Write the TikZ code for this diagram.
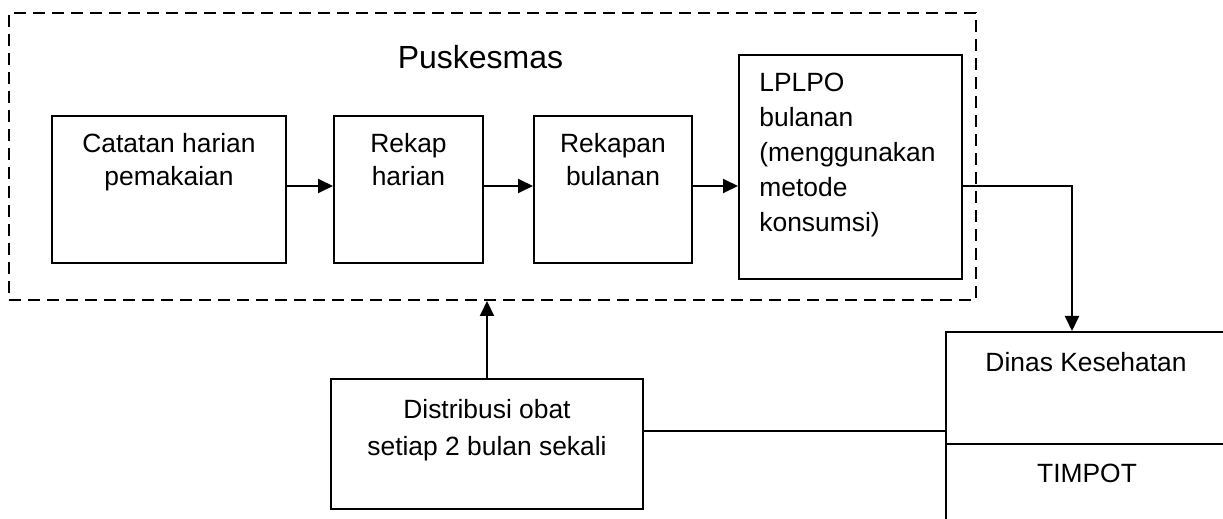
\documentclass[tikz,border=0pt]{standalone}
\usepackage{fontspec}
\setmainfont{Liberation Sans}
\usetikzlibrary{arrows.meta,positioning,calc}
\tikzset{
  box/.style={draw, line width=1pt, inner sep=0pt},
  boxtext/.style={font=\fontsize{13.2}{16.5}\selectfont, align=center, inner sep=0pt, anchor=north},
  flow/.style={-{Triangle[length=7.5pt,width=7pt]}, line width=1pt},
  link/.style={line width=1pt},
  group/.style={draw, dash pattern=on 6pt off 3.5pt, line width=1pt, inner sep=0pt},
}
\begin{document}
\begin{tikzpicture}[x=0.5pt,y=-0.5pt]
  \useasboundingbox (0,0) rectangle (1223,519);
  \clip (0,0) rectangle (1223,519);
  % puskesmas group
  \node[group, minimum width=483.5pt, minimum height=143.5pt] (pusk) at (492.5,156.5) {};
  \node[boxtext, font=\fontsize{16}{19}\selectfont] (puskt) at (480.5,45) {Puskesmas};
  % daily -> monthly chain
  \foreach \x/\w/\t [count=\i from 0] in {
      169/234/{Catatan harian\\pemakaian},
      408.5/149/{Rekap\\harian},
      613/158/{Rekapan\\bulanan}} {
    \node[box, minimum width=\w*0.5pt, minimum height=73.5pt] (b\i) at (\x,189.5) {};
    \node[boxtext] (t\i) at (\x,133) {\t};
  }
  \node[box, minimum width=111.5pt, minimum height=112pt] (lplpo) at (850.5,167) {};
  \node[boxtext, font=\fontsize{13.2}{17.5}\selectfont, align=left, anchor=north west] (lplpot) at (759,73)
    {LPLPO\\bulanan\\(menggunakan\\metode\\konsumsi)};
  % outside
  \node[box, minimum width=156pt, minimum height=65pt] (distr) at (487,444) {};
  \node[boxtext, font=\fontsize{13.2}{18.5}\selectfont] (distrt) at (487,399)
    {Distribusi obat\\setiap 2 bulan sekali};
  \node[box, minimum width=140pt, minimum height=112pt] (dinas) at (1086,444) {};
  \node[boxtext] (dinast) at (1086,352) {Dinas Kesehatan};
  \node[boxtext] (timpot) at (1087,464) {TIMPOT};
  \draw[link] (dinas.west) -- (dinas.east);
  % connectors
  \foreach \i [evaluate=\i as \j using int(\i+1)] in {0,1}
    \draw[flow] ([yshift=1.75pt]b\i.east) -- ([yshift=1.75pt]b\i.east -| b\j.west);
  \draw[flow] ([yshift=1.75pt]b2.east) -- ([yshift=1.75pt]b2.east -| lplpo.west);
  \coordinate (bend) at (1072,186);
  \draw[flow] (lplpo.east |- bend) -- (bend) -- (bend |- dinas.north);
  \draw[flow] (distr.north) -- (distr.north |- pusk.south);
  \draw[link] ([yshift=6.5pt]distr.east) -- ([yshift=6.5pt]distr.east -| dinas.west);
\end{tikzpicture}
\end{document}
